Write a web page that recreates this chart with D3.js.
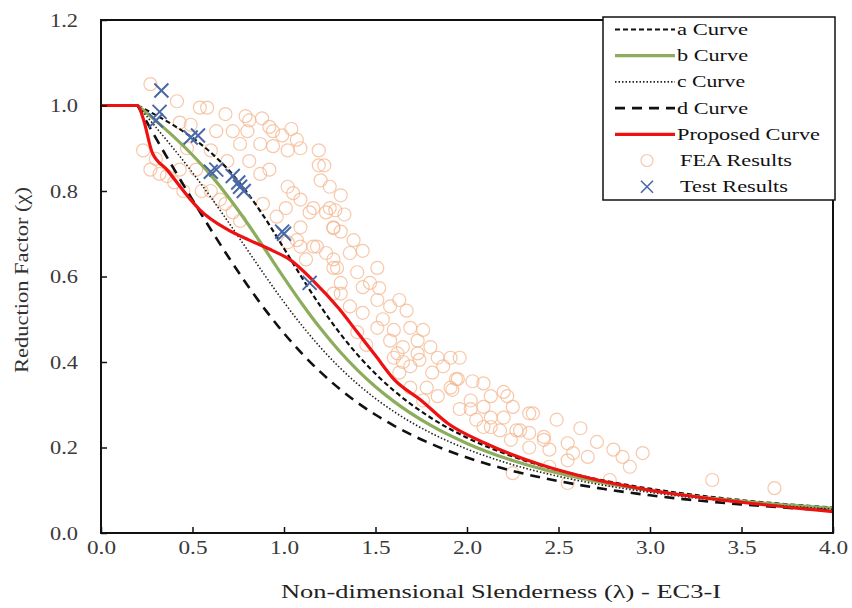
<!DOCTYPE html>
<html><head><meta charset="utf-8">
<script src="https://cdn.jsdelivr.net/npm/d3@7"></script>
<style>body{margin:0;background:#fff}svg{display:block}</style>
</head><body><svg id="c" width="852" height="608"></svg>
<script>
const slenderness = [0.2,0.3,0.4,0.5,0.6,0.7,0.8,0.9,1.0,1.1,1.2,1.3,1.4,1.5,1.6,1.8,2.0,2.25,2.5,2.75,3.0,3.5,4.0];
const curveA = [1,0.9775,0.9528,0.9243,0.8900,0.8477,0.7957,0.7339,0.6656,0.5960,0.5300,0.4703,0.4179,0.3724,0.3332,0.2702,0.2229,0.1790,0.1467,0.1224,0.1036,0.0769,0.0594];
const curveB = [1,0.9641,0.9261,0.8842,0.8371,0.7837,0.7245,0.6612,0.5970,0.5352,0.4781,0.4269,0.3817,0.3422,0.3079,0.2521,0.2095,0.1694,0.1397,0.1170,0.0994,0.0743,0.0576];
const curveC = [1,0.9491,0.8973,0.8430,0.7854,0.7247,0.6622,0.5998,0.5399,0.4842,0.4338,0.3888,0.3492,0.3145,0.2842,0.2345,0.1962,0.1598,0.1325,0.1115,0.0951,0.0715,0.0556];
const curveD = [1,0.9235,0.8504,0.7793,0.7100,0.6431,0.5797,0.5208,0.4671,0.4189,0.3762,0.3385,0.3055,0.2766,0.2512,0.2093,0.1766,0.1452,0.1214,0.1029,0.0882,0.0669,0.0525];
const proposedX = [0,0.2,0.23,0.28,0.36,0.47,0.54,0.69,0.81,0.94,1.03,1.16,1.30,1.40,1.50,1.60,1.75,1.90,2.1,2.4,2.7,3.0,3.5,4.0];
const proposedY = [1,1,0.97,0.89,0.85,0.79,0.756,0.71,0.685,0.66,0.64,0.59,0.525,0.47,0.415,0.36,0.31,0.255,0.21,0.16,0.125,0.10,0.072,0.05];
const feaResults = [
[0.27,1.05],[0.415,1.01],[0.54,0.995],[0.58,0.995],[0.68,0.98],[0.79,0.975],[0.81,0.965],[0.88,0.97],[0.94,0.94],[0.92,0.95],[0.99,0.93],[1.04,0.945],[1.07,0.92],[1.09,0.90],[1.19,0.86],[1.19,0.895],[1.22,0.86],
[0.43,0.96],[0.49,0.955],[0.63,0.94],[0.72,0.94],[0.80,0.94],[0.87,0.91],[0.94,0.905],[1.02,0.895],[0.76,0.91],[0.81,0.87],[0.92,0.85],[1.02,0.81],[1.05,0.795],[1.09,0.78],[1.16,0.76],[1.23,0.75],[1.27,0.715],[1.20,0.825],[1.25,0.81],[1.31,0.79],[1.28,0.755],[1.33,0.745],
[0.23,0.895],[0.27,0.85],[0.32,0.84],[0.36,0.835],[0.43,0.85],[0.47,0.90],[0.60,0.895],[0.69,0.87],[0.87,0.84],[0.60,0.80],[0.52,0.85],[0.55,0.80],[0.65,0.78],[0.68,0.77],[0.72,0.75],[0.76,0.73],[0.40,0.82],[0.45,0.80],[0.30,0.875],
[1.02,0.68],[1.09,0.67],[1.16,0.67],[1.23,0.655],[1.12,0.64],[1.27,0.62],[1.27,0.56],[1.31,0.585],
[0.885,0.77],[1.01,0.76],[1.14,0.75],[1.25,0.76],[0.96,0.74],[1.09,0.715],[1.07,0.685],[1.18,0.67],[1.27,0.713],[1.31,0.705],[1.38,0.685],[1.27,0.64],[1.29,0.62],[1.36,0.655],[1.43,0.66],[1.40,0.61],[1.47,0.585],[1.43,0.575],[1.51,0.62],[1.52,0.573],[1.31,0.56],[1.36,0.53],[1.43,0.515],[1.51,0.545],[1.58,0.53],[1.63,0.545],[1.67,0.52],[1.51,0.48],[1.54,0.50],[1.60,0.475],[1.58,0.45],[1.65,0.435],[1.62,0.42],[1.69,0.48],[1.76,0.475],[1.73,0.45],[1.60,0.41],[1.73,0.42],[1.80,0.435],[1.69,0.39],[1.74,0.405],[1.84,0.41],[1.91,0.41],[1.81,0.375],[1.87,0.39],[1.91,0.34],[1.95,0.36],[1.78,0.34],[1.84,0.32],[1.76,0.31],[1.69,0.34],[1.63,0.375],[1.65,0.40],[2.02,0.31],[2.09,0.295],[2.20,0.33],[2.34,0.28],[2.05,0.265],[2.13,0.248],[2.20,0.27],[2.27,0.24],[2.34,0.234],[2.42,0.218],[1.40,0.47],[1.45,0.44],
[1.96,0.41],[1.94,0.36],[2.03,0.355],[2.09,0.35],[1.92,0.335],[2.13,0.32],[2.22,0.32],[1.96,0.29],[2.02,0.29],[2.13,0.27],[2.25,0.295],[2.36,0.28],[2.49,0.265],[2.62,0.245],[2.09,0.248],[2.18,0.24],[2.29,0.24],[2.24,0.218],[2.42,0.225],[2.34,0.20],[2.45,0.195],[2.55,0.21],[2.58,0.187],[2.71,0.213],[2.80,0.195],[2.85,0.178],[2.89,0.155],[2.96,0.187],[2.66,0.178],[2.55,0.17],[2.45,0.155],[2.25,0.14],[2.55,0.117],[2.78,0.124],[3.34,0.124],[3.68,0.105]
];
const testResults = [[0.33,1.035],[0.32,0.985],[0.30,0.965],[0.49,0.925],[0.53,0.93],[0.60,0.845],[0.63,0.85],[0.72,0.835],[0.76,0.81],[0.78,0.80],[0.75,0.82],[1.0,0.70],[0.99,0.705],[1.14,0.585]];
const xTicks = [0,0.5,1.0,1.5,2.0,2.5,3.0,3.5,4.0];
const yTicks = [0,0.2,0.4,0.6,0.8,1.0,1.2];
const legendLabels = ["a Curve","b Curve","c Curve","d Curve","Proposed Curve","FEA Results","Test Results"];

const svg = d3.select("#c");
const L=101,R=833,T=20,B=533;
const x = d3.scaleLinear().domain([0,4]).range([L,R]);
const y = d3.scaleLinear().domain([0,1.2]).range([B,T]);
const font = "'Liberation Serif','Times New Roman',serif";

svg.append("g").selectAll("circle").data(feaResults).join("circle")
  .attr("cx",d=>x(d[0])).attr("cy",d=>y(d[1])).attr("r",6.5)
  .attr("fill","none").attr("stroke","#f4b68e").attr("stroke-width",1.2).attr("opacity",0.75);

const line = d3.line().x(d=>x(d[0])).y(d=>y(d[1])).curve(d3.curveMonotoneX);
const styles = [
  {data:curveA, color:"#111", w:2.2, dash:"5,3"},
  {data:curveB, color:"#8cad5b", w:3.2, dash:null},
  {data:curveC, color:"#222", w:1.6, dash:"1.5,2"},
  {data:curveD, color:"#111", w:2.6, dash:"10,7"}
];
styles.forEach(s=>{
  svg.append("path").datum(slenderness.map((v,i)=>[v,s.data[i]]))
    .attr("d",line).attr("fill","none").attr("stroke",s.color)
    .attr("stroke-width",s.w).attr("stroke-dasharray",s.dash);
});
svg.append("path").datum(proposedX.map((v,i)=>[v,proposedY[i]]))
  .attr("d",line).attr("fill","none").attr("stroke","#ee1111").attr("stroke-width",3.2);

const xs = svg.append("g").selectAll("g").data(testResults).join("g")
  .attr("transform",d=>`translate(${x(d[0])},${y(d[1])})`);
xs.append("path").attr("d","M-7,-7L7,7M-7,7L7,-7").attr("stroke","#4a68a6").attr("stroke-width",2);

svg.append("rect").attr("x",L).attr("y",T).attr("width",R-L).attr("height",B-T)
  .attr("fill","none").attr("stroke","#111").attr("stroke-width",2);

svg.append("g").attr("transform",`translate(0,${B})`)
  .call(d3.axisBottom(x).tickValues(xTicks).tickSize(-6).tickFormat(d3.format(".1f")))
  .call(g=>{g.select(".domain").remove();
    g.selectAll("line").attr("stroke","#111").attr("stroke-width",1.5);
    g.selectAll("text").attr("y",21).attr("dy",0).attr("font-family",font).attr("font-size",19).attr("fill","#3a3a3a")
      .attr("textLength",29).attr("lengthAdjust","spacingAndGlyphs");});
svg.append("g").attr("transform",`translate(${L},0)`)
  .call(d3.axisLeft(y).tickValues(yTicks).tickSize(-6).tickFormat(d3.format(".1f")))
  .call(g=>{g.select(".domain").remove();
    g.selectAll("line").attr("stroke","#111").attr("stroke-width",1.5);
    g.selectAll("text").attr("x",-23).attr("font-family",font).attr("font-size",19).attr("fill","#3a3a3a")
      .attr("textLength",28).attr("lengthAdjust","spacingAndGlyphs");});

svg.append("text").attr("x",501).attr("y",598).attr("text-anchor","middle")
  .attr("font-family",font).attr("font-size",19).attr("fill","#222")
  .attr("textLength",440).attr("lengthAdjust","spacingAndGlyphs")
  .text("Non-dimensional Slenderness (λ) - EC3-I");
svg.append("text").attr("transform","translate(28,280) rotate(-90)").attr("text-anchor","middle")
  .attr("font-family",font).attr("font-size",19).attr("fill","#333")
  .attr("textLength",186).attr("lengthAdjust","spacingAndGlyphs")
  .text("Reduction Factor (χ)");

const lg = svg.append("g");
lg.append("rect").attr("x",603).attr("y",17).attr("width",232).attr("height",183)
  .attr("fill","#fff").attr("stroke","#111").attr("stroke-width",1.5);
const lens=[71,71,68,71,143,112,108];
legendLabels.forEach((lab,i)=>{
  const cy = 29.5 + i*26.2;
  if(i<4){ const s=styles[i];
    lg.append("line").attr("x1",615).attr("x2",675).attr("y1",cy).attr("y2",cy)
      .attr("stroke",s.color).attr("stroke-width",s.w).attr("stroke-dasharray",s.dash);
  } else if(i===4){
    lg.append("line").attr("x1",615).attr("x2",675).attr("y1",cy).attr("y2",cy)
      .attr("stroke","#ee1111").attr("stroke-width",3.2);
  } else if(i===5){
    lg.append("circle").attr("cx",647).attr("cy",cy).attr("r",6).attr("fill","none")
      .attr("stroke","#f4b68e").attr("stroke-width",1.2).attr("opacity",0.75);
  } else {
    lg.append("path").attr("transform",`translate(647,${cy})`).attr("d","M-6,-6L6,6M-6,6L6,-6")
      .attr("stroke","#4a68a6").attr("stroke-width",1.6);
  }
  lg.append("text").attr("x",i<5?677:680).attr("y",cy+5.5)
    .attr("font-family",font).attr("font-size",17).attr("fill","#111")
    .attr("textLength",lens[i]).attr("lengthAdjust","spacingAndGlyphs").text(lab);
});
</script></body></html>
